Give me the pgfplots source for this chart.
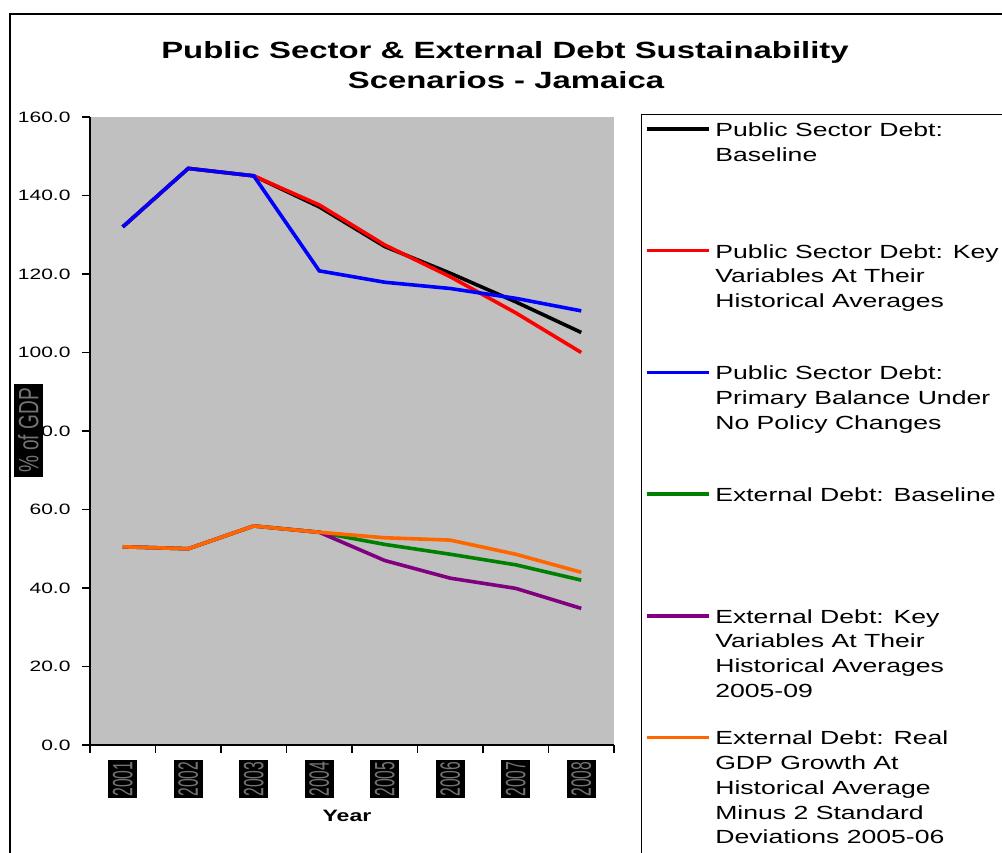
\documentclass[border=0pt]{standalone}
\usepackage{fontspec}
\setmainfont{Liberation Sans}[FakeStretch=1.4]
\newfontfamily\yearfont{Liberation Sans}[FakeStretch=0.56]
\newfontfamily\labfont{Liberation Sans}[FakeStretch=0.68]
\usepackage{pgfplots}
\pgfplotsset{compat=1.18}
\usepackage{pgfplotstable}

\definecolor{plotgray}{RGB}{192,192,192}
\definecolor{extgreen}{RGB}{0,128,0}
\definecolor{extpurple}{RGB}{128,0,128}
\definecolor{extorange}{RGB}{255,102,0}

% Debt ratios, % of GDP; yr 1..8 = 2001..2008
\pgfplotstableread{
yr psbase pshist psnopol extbase exthist extgdp
1 132.0 132.0 132.0 50.5 50.5 50.5
2 146.9 146.9 146.9 50.0 50.0 50.0
3 145.0 145.0 145.0 55.8 55.8 55.8
4 137.1 137.6 120.8 54.2 54.2 54.2
5 127.0 127.4 117.9 51.1 47.0 52.8
6 120.2 119.3 116.3 48.6 42.5 52.2
7 112.9 110.1 113.8 45.9 39.9 48.6
8 105.1 100.0 110.6 42.0 34.8 44.0
}\debt

% legend text: fixed-height block, one \mbox per line so nothing rewraps
\newcommand\lgd[1]{\parbox[t][121.7pt][t]{284pt}{\raggedright\fontsize{19}{24.7}\selectfont #1}}

\begin{document}
\begin{tikzpicture}
\path[use as bounding box] (0,0) rectangle (1002pt,853pt);
\clip (0,0) rectangle (1002pt,853pt);

% outer chart frame
\draw[line width=2pt] (10pt,-20pt) -- (10pt,839pt) -- (1030pt,839pt);

% title
\node[anchor=base, font=\bfseries\fontsize{23.5}{30}\selectfont] at (505pt,794pt)
  {Public Sector \& External Debt Sustainability};
\node[anchor=base, font=\bfseries\fontsize{23.5}{30}\selectfont] at (506pt,764pt)
  {Scenarios - Jamaica};

\begin{axis}[
  at={(90pt,108pt)}, anchor=south west,
  scale only axis, width=524pt, height=628pt,
  xmin=0.5, xmax=8.5, ymin=0, ymax=160,
  axis x line*=bottom, axis y line*=left,
  axis line style={line width=1.6pt, black},
  axis background/.style={fill=plotgray},
  tick align=outside, major tick length=8pt,
  tick style={line width=1.5pt, black},
  xtick={0.5,1.5,...,8.5},
  x tick label as interval,
  xticklabels={2001,2002,2003,2004,2005,2006,2007,2008},
  xticklabel style={yshift=-7pt, rotate=90, anchor=east, fill=black, text=black!55,
    font=\yearfont\fontsize{28}{28}\selectfont, inner xsep=1.5pt, inner ysep=0pt,
    minimum height=29pt},
  ytick={0,20,...,160},
  yticklabel style={font=\fontsize{15}{15}\selectfont, xshift=-8pt},
  /pgf/number format/fixed,
  /pgf/number format/fixed zerofill,
  /pgf/number format/precision=1,
  /pgf/number format/assume math mode=true,
  xlabel={Year},
  xlabel style={at={(axis description cs:0.4905,0)}, anchor=base, yshift=-77pt,
    font=\bfseries\fontsize{16.5}{16.5}\selectfont},
  ylabel={\% of GDP},
  ylabel style={at={(axis description cs:-0.1174,0.5008)}, anchor=center, rotate=0,
    fill=black, text=black!55, font=\labfont\fontsize{28}{28}\selectfont,
    minimum width=93pt, minimum height=29pt, inner sep=0pt},
  no markers,
  every axis plot/.append style={line width=3.6pt},
  legend image code/.code={\draw[#1] (0pt,7.5pt) -- (62pt,7.5pt);},
  legend style={at={(axis description cs:1.05153,1.00478)}, anchor=north west,
    draw=black, line width=1.4pt, fill=white,
    inner xsep=3pt, inner ysep=8pt, row sep=0pt, column sep=5pt,
    nodes={inner sep=0pt, text depth=},
    cells={anchor=base west}},
]
\addplot[black] table[x=yr, y=psbase] {\debt};
\addlegendentry{\lgd{\mbox{Public Sector Debt:}\\\mbox{Baseline}}}
\addplot[red] table[x=yr, y=pshist] {\debt};
\addlegendentry{\lgd{\mbox{Public Sector Debt: Key}\\\mbox{Variables At Their}\\\mbox{Historical Averages}}}
\addplot[blue] table[x=yr, y=psnopol] {\debt};
\addlegendentry{\lgd{\mbox{Public Sector Debt:}\\\mbox{Primary Balance Under}\\\mbox{No Policy Changes}}}
\addplot[extgreen] table[x=yr, y=extbase] {\debt};
\addlegendentry{\lgd{\mbox{External Debt: Baseline}}}
\addplot[extpurple] table[x=yr, y=exthist] {\debt};
\addlegendentry{\lgd{\mbox{External Debt: Key}\\\mbox{Variables At Their}\\\mbox{Historical Averages}\\\mbox{2005-09}}}
\addplot[extorange] table[x=yr, y=extgdp] {\debt};
\addlegendentry{\lgd{\mbox{External Debt: Real}\\\mbox{GDP Growth At}\\\mbox{Historical Average}\\\mbox{Minus 2 Standard}\\\mbox{Deviations 2005-06}}}
\end{axis}
\end{tikzpicture}
\end{document}
